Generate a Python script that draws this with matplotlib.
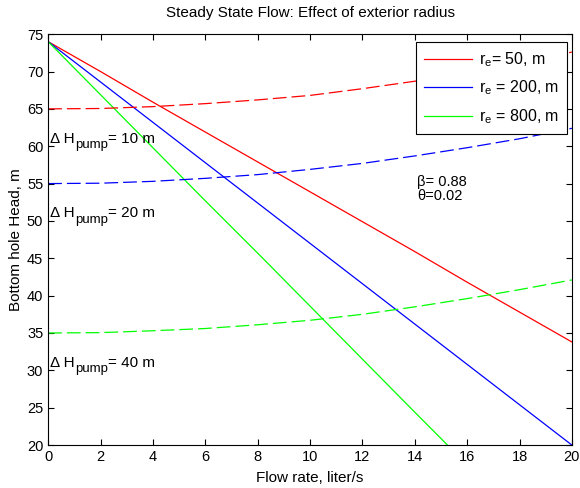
import numpy as np
import matplotlib.pyplot as plt

plt.rcParams['font.family'] = ['Liberation Sans', 'DejaVu Sans']
plt.rcParams['mathtext.fontset'] = 'custom'
plt.rcParams['mathtext.rm'] = 'Liberation Sans'
plt.rcParams['mathtext.it'] = 'Liberation Sans'

# flow rate, liter/s
flow = [0, 2, 4, 6, 8, 10, 12, 14, 16, 18, 20]

# bottom hole head (solid) for each exterior radius
head_re50 = [74, 70.0, 65.9, 61.9, 57.9, 53.9, 49.9, 45.9, 41.8, 37.8, 33.8]
head_re200 = [74, 68.6, 63.2, 57.8, 52.4, 47.0, 41.6, 36.2, 30.8, 25.4, 20.0]
flow_re800 = [0, 2, 4, 6, 8, 10, 12, 14, 15.25]
head_re800 = [74, 66.9, 59.8, 52.7, 45.7, 38.6, 31.5, 24.4, 20.0]

# pump curves (dashed)
pump_10 = [65, 65.05, 65.3, 65.7, 66.2, 66.8, 67.7, 68.7, 69.9, 71.2, 72.6]
pump_20 = [55, 55.05, 55.3, 55.7, 56.2, 56.9, 57.7, 58.7, 59.8, 61.0, 62.4]
pump_40 = [35, 35.05, 35.3, 35.6, 36.1, 36.7, 37.5, 38.5, 39.6, 40.8, 42.1]

pump_labels = [(61, '10'), (51, '20'), (31, '40')]

fig = plt.figure(figsize=(5.8, 4.88), dpi=100)
ax = fig.add_axes([0.083, 0.088, 0.903, 0.842])

lw = 0.9
ax.plot(flow, head_re50, color='#ff0000', lw=lw, label='r$_e$= 50, m')
ax.plot(flow, head_re200, color='#0000ff', lw=lw, label='r$_e$ = 200, m')
ax.plot(flow_re800, head_re800, color='#00ff00', lw=lw, label='r$_e$ = 800, m')

ax.plot(flow, pump_10, color='#ff0000', lw=lw, dashes=(11, 4))
ax.plot(flow, pump_20, color='#0000ff', lw=lw, dashes=(11, 4))
ax.plot(flow, pump_40, color='#00ff00', lw=lw, dashes=(11, 4))

# "Δ H_pump= xx m" built from pieces so the subscript sits low like matlab's
for yv, dh in pump_labels:
    t1 = ax.text(0.08, yv, 'Δ H', fontsize=11, va='center', ha='left')
    t2 = ax.annotate('pump', xy=(1, 0), xycoords=t1, xytext=(0.3, 5.0),
                     textcoords='offset points', fontsize=9.5, va='top')
    ax.annotate('= %s m' % dh, xy=(1, 0.5), xycoords=(t2, t1),
                fontsize=11, va='center', ha='left')

ax.text(14.1, 54.3, 'β= 0.88\nθ=0.02', fontsize=10.5, va='center', ha='left',
        linespacing=1.0)

ax.set_xlim(0, 20)
ax.set_ylim(20, 75)
ax.set_xticks(np.arange(0, 21, 2))
ax.set_yticks(np.arange(20, 76, 5))
ax.tick_params(direction='in', top=True, right=True, labelsize=10.5, length=4)
ax.set_xlabel('Flow rate, liter/s', fontsize=11, labelpad=5)
ax.set_ylabel('Bottom hole Head, m', fontsize=11, labelpad=3)
ax.set_title('Steady State Flow: Effect of exterior radius', fontsize=11, pad=12)

leg = ax.legend(loc='upper right', bbox_to_anchor=(0.9905, 0.9805),
                borderaxespad=0, fontsize=11.5, fancybox=False, framealpha=1,
                edgecolor='black', handlelength=3.0, handletextpad=0.4,
                labelspacing=0.62, borderpad=0.5)
leg.get_frame().set_linewidth(0.8)

fig.savefig('out.png', dpi=100)
